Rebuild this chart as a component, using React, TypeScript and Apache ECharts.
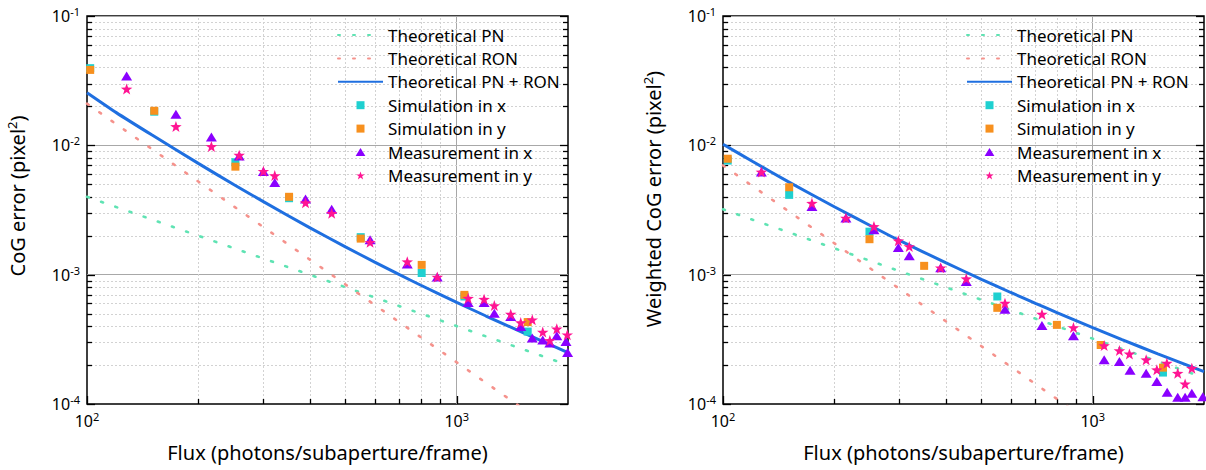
import React, { useEffect, useRef } from "react";
import * as echarts from "echarts";

// ---- data ----
const fluxCurve = [100, 120, 150, 200, 250, 300, 400, 500, 600, 700, 800, 1000, 1200, 1500, 2000];
const sumLeft = [0.0255, 0.0179, 0.012, 0.00725, 0.00496, 0.00367, 0.00231, 0.00164, 0.00125, 0.001, 0.000828, 0.00061, 0.000479, 0.00036, 0.00025];
const sumRight = [0.0102, 0.00753, 0.00524, 0.00335, 0.0024, 0.00184, 0.00124, 0.00092, 0.000728, 0.0006, 0.000509, 0.00039, 0.000315, 0.000244, 0.000178];
const fluxEnds = [100, 2000];
const pnLeft = [4.0e-3, 2.0e-4];
const ronLeft = [2.1e-2, 5.25e-5];
const pnRight = [3.2e-3, 1.6e-4];
const ronRight = [7.0e-3, 1.75e-5];

const simXLeft = [[102, 3.95e-2], [152, 1.82e-2], [252, 7.4e-3], [352, 3.9e-3], [550, 1.95e-3], [804, 1.03e-3], [1049, 6.78e-4], [1556, 3.63e-4]];
const simYLeft = [[102, 3.83e-2], [152, 1.85e-2], [252, 6.84e-3], [352, 4.0e-3], [550, 1.9e-3], [804, 1.19e-3], [1049, 6.98e-4], [1556, 4.3e-4]];
const measXLeft = [[128, 3.43e-2], [174, 1.74e-2], [217, 1.16e-2], [258, 8.28e-3], [300, 6.27e-3], [322, 5.15e-3], [390, 3.85e-3], [459, 3.2e-3], [583, 1.86e-3], [735, 1.21e-3], [886, 9.58e-4], [1074, 6.08e-4], [1186, 6.08e-4], [1264, 5.04e-4], [1400, 4.75e-4], [1490, 3.97e-4], [1601, 3.24e-4], [1709, 3.13e-4], [1786, 2.96e-4], [1865, 3.37e-4], [1975, 3.04e-4], [1995, 2.5e-4]];
const measYLeft = [[128, 2.73e-2], [174, 1.4e-2], [217, 9.8e-3], [258, 8.4e-3], [300, 6.3e-3], [322, 5.84e-3], [390, 3.6e-3], [459, 2.98e-3], [583, 1.78e-3], [735, 1.26e-3], [886, 9.58e-4], [1074, 6.58e-4], [1186, 6.46e-4], [1264, 5.77e-4], [1400, 4.95e-4], [1490, 4.26e-4], [1601, 4.48e-4], [1709, 3.6e-4], [1786, 3.1e-4], [1865, 3.81e-4], [1991, 3.43e-4]];

const simXRight = [[103, 7.62e-3], [151, 4.14e-3], [249, 2.15e-3], [552, 6.78e-4], [1549, 1.75e-4]];
const simYRight = [[103, 7.88e-3], [151, 4.74e-3], [249, 1.88e-3], [350, 1.17e-3], [552, 5.54e-4], [800, 4.09e-4], [1051, 2.86e-4], [1549, 1.91e-4]];
const measXRight = [[127, 6.22e-3], [174, 3.36e-3], [215, 2.74e-3], [256, 2.22e-3], [298, 1.62e-3], [319, 1.4e-3], [388, 1.13e-3], [455, 8.87e-4], [579, 5.41e-4], [729, 4.05e-4], [887, 3.37e-4], [1074, 2.2e-4], [1181, 2.13e-4], [1262, 1.82e-4], [1395, 1.73e-4], [1491, 1.49e-4], [1590, 1.23e-4], [1698, 1.13e-4], [1778, 1.13e-4], [1854, 1.21e-4], [1986, 1.14e-4]];
const measYRight = [[127, 6.22e-3], [174, 3.57e-3], [215, 2.74e-3], [256, 2.36e-3], [298, 1.83e-3], [319, 1.65e-3], [388, 1.13e-3], [455, 9.3e-4], [579, 6.02e-4], [729, 4.95e-4], [887, 3.9e-4], [1074, 2.83e-4], [1181, 2.59e-4], [1257, 2.44e-4], [1395, 2.2e-4], [1491, 1.84e-4], [1587, 2.07e-4], [1698, 1.73e-4], [1778, 1.43e-4], [1854, 1.89e-4]];

const xMinorTicks = [200, 300, 400, 500, 600, 700, 800, 900];
const xMajorTicks = [100, 1000];
const yMinorTicks = [2e-4, 3e-4, 4e-4, 5e-4, 6e-4, 7e-4, 8e-4, 9e-4, 2e-3, 3e-3, 4e-3, 5e-3, 6e-3, 7e-3, 8e-3, 9e-3, 2e-2, 3e-2, 4e-2, 5e-2, 6e-2, 7e-2, 8e-2, 9e-2];
const yMajorTicks = [1e-4, 1e-3, 1e-2, 1e-1];

const names = ["Theoretical PN", "Theoretical RON", "Theoretical PN + RON", "Simulation in x", "Simulation in y", "Measurement in x", "Measurement in y"];
const yTitles = ["CoG error (pixel{s|2})", "Weighted CoG error (pixel{s|2})"];
const xTitle = "Flux (photons/subaperture/frame)";

// ---- styles ----
const FONT = "Noto Sans";
const X_MIN = 100, X_MAX = 2000, Y_MIN = 1e-4, Y_MAX = 1e-1;
const C_PN = "#5fe3b3";
const C_RON = "#f5928c";
const C_SUM = "#1f6fe0";
const C_SIMX = "#1fd0d0";
const C_SIMY = "#f7901e";
const C_MEASX = "#8a00ff";
const C_MEASY = "#ff1493";
const SYM_SQUARE = "path://M0,0L10,0L10,10L0,10Z";
const SYM_TRI = "path://M5.5,0L11,9L0,9Z";
const SYM_STAR = "path://M10,0L12.35,6.76L19.51,6.91L13.8,11.24L15.88,18.09L10,14L4.12,18.09L6.2,11.24L0.49,6.91L7.65,6.76Z";

const isDecade = (v: number) => Math.abs(Math.log10(v) - Math.round(Math.log10(v))) < 1e-6;
const powLabel = (v: number) => (isDecade(v) ? `{b|10}{s|${Math.round(Math.log10(v))}}` : "");
const labelRich = {
  b: { fontSize: 16, fontFamily: FONT, color: "#000", lineHeight: 20 },
  s: { fontSize: 11, fontFamily: FONT, color: "#000", lineHeight: 12, verticalAlign: "top" },
};

function buildSeries(gi: number, sum: number[], pn: number[], ron: number[], sx: number[][], sy: number[][], mx: number[][], my: number[][]) {
  const ax = { xAxisIndex: gi, yAxisIndex: gi };
  const dotted = (c: string) => ({ color: c, width: 2.6, type: [2, 13], cap: "round" });
  const yTicks = [...yMinorTicks, ...yMajorTicks];
  const xTicks = [...xMinorTicks, ...xMajorTicks];
  return [
    {
      type: "custom", ...ax, silent: true, z: 1, clip: false,
      data: yTicks.map((v) => [X_MIN, v]),
      renderItem: (_p: any, api: any) => {
        const v = api.value(1);
        const a = api.coord([X_MIN, v]);
        const b = api.coord([X_MAX, v]);
        const major = isDecade(v);
        const len = major ? 8 : 5;
        const y = Math.round(a[1]) + 0.5;
        const children: any[] = [];
        if (!major) children.push({ type: "line", shape: { x1: a[0], y1: y, x2: b[0], y2: y }, style: { stroke: "#d2d2d2", lineWidth: 1, lineDash: [2, 2] } });
        children.push({ type: "line", shape: { x1: a[0], y1: y, x2: a[0] + len, y2: y }, style: { stroke: "#000", lineWidth: 1.3 } });
        children.push({ type: "line", shape: { x1: b[0] - len, y1: y, x2: b[0], y2: y }, style: { stroke: "#000", lineWidth: 1.3 } });
        return { type: "group", children };
      },
    },
    {
      type: "custom", ...ax, silent: true, z: 1, clip: false,
      data: xTicks.map((f) => [f, 1e-3]),
      renderItem: (_p: any, api: any) => {
        const f = api.value(0);
        const a = api.coord([f, Y_MIN]);
        const b = api.coord([f, Y_MAX]);
        const major = isDecade(f);
        const len = major ? 8 : 5;
        const x = Math.round(a[0]) + 0.5;
        const children: any[] = [];
        if (!major) children.push({ type: "line", shape: { x1: x, y1: a[1], x2: x, y2: b[1] }, style: { stroke: "#d2d2d2", lineWidth: 1, lineDash: [2, 2] } });
        children.push({ type: "line", shape: { x1: x, y1: a[1], x2: x, y2: a[1] - len }, style: { stroke: "#000", lineWidth: 1.3 } });
        return { type: "group", children };
      },
    },
    { name: names[0], type: "line", ...ax, symbol: "none", showSymbol: false, data: fluxEnds.map((f, i) => [f, pn[i]]), itemStyle: { color: C_PN }, lineStyle: dotted(C_PN), z: 2 },
    { name: names[1], type: "line", ...ax, symbol: "none", showSymbol: false, data: fluxEnds.map((f, i) => [f, ron[i]]), itemStyle: { color: C_RON }, lineStyle: dotted(C_RON), z: 2 },
    { name: names[2], type: "line", ...ax, symbol: "none", showSymbol: false, smooth: 0.2, data: fluxCurve.map((f, i) => [f, sum[i]]), itemStyle: { color: C_SUM }, lineStyle: { color: C_SUM, width: 3 }, z: 2 },
    { name: names[3], type: "scatter", ...ax, symbol: SYM_SQUARE, symbolSize: 8, data: sx, itemStyle: { color: C_SIMX, opacity: 1 }, z: 3 },
    { name: names[4], type: "scatter", ...ax, symbol: SYM_SQUARE, symbolSize: 8, data: sy, itemStyle: { color: C_SIMY, opacity: 1 }, z: 3 },
    { name: names[5], type: "scatter", ...ax, symbol: SYM_TRI, symbolSize: [11, 9], data: mx, itemStyle: { color: C_MEASX, opacity: 1 }, z: 3 },
    { name: names[6], type: "scatter", ...ax, symbol: SYM_STAR, symbolSize: [11.5, 11], data: my, itemStyle: { color: C_MEASY, opacity: 1 }, z: 3 },
  ];
}

function xAxisCfg(gi: number) {
  return {
    gridIndex: gi, type: "log", logBase: 10, min: X_MIN, max: X_MAX,
    axisLine: { show: false }, axisTick: { show: false },
    minorTick: { show: false }, minorSplitLine: { show: false },
    splitLine: { show: true, showMinLine: false, showMaxLine: false, lineStyle: { color: "#a8a8a8", width: 1 } },
    axisLabel: { formatter: powLabel, rich: labelRich, margin: 7, showMaxLabel: false },
    name: xTitle, nameLocation: "middle", nameGap: 38,
    nameTextStyle: { fontSize: 20, fontFamily: FONT, color: "#000" },
  };
}
function yAxisCfg(gi: number) {
  return {
    gridIndex: gi, type: "log", logBase: 10, min: Y_MIN, max: Y_MAX,
    axisLine: { show: false }, axisTick: { show: false },
    minorTick: { show: false }, minorSplitLine: { show: false },
    splitLine: { show: true, showMinLine: false, showMaxLine: false, lineStyle: { color: "#a8a8a8", width: 1 } },
    axisLabel: { formatter: powLabel, rich: labelRich, margin: 7 },
    name: yTitles[gi], nameLocation: "middle", nameGap: 58,
    nameTextStyle: {
      fontSize: 20, fontFamily: FONT, color: "#000", lineHeight: 24,
      padding: [0, 0, 0, gi === 0 ? 28 : 22],
      rich: { s: { fontSize: 13, fontFamily: FONT, color: "#000", lineHeight: 14, verticalAlign: "top" } },
    },
  };
}
function legendCfg(left: number) {
  return {
    left, top: 26.5, orient: "vertical", padding: 0, itemWidth: 45, itemHeight: 8, itemGap: 6.4,
    selectedMode: false,
    data: names.map((n, i) => (i < 3 ? { name: n, itemStyle: { opacity: 0 } } : { name: n })),
    textStyle: { fontSize: 17, fontFamily: FONT, color: "#000", lineHeight: 17 },
  };
}

export default function App() {
  const ref = useRef<HTMLDivElement>(null);
  useEffect(() => {
    if (!ref.current) return;
    const chart = echarts.init(ref.current, undefined, { renderer: "svg" });
    chart.setOption({
      animation: false,
      backgroundColor: "#fff",
      textStyle: { fontFamily: FONT },
      grid: [
        { left: 87, top: 16, width: 481, height: 388, show: true, borderColor: "#000", borderWidth: 1.5, backgroundColor: "transparent" },
        { left: 723, top: 16, width: 481, height: 388, show: true, borderColor: "#000", borderWidth: 1.5, backgroundColor: "transparent" },
      ],
      legend: [legendCfg(337), legendCfg(966)],
      xAxis: [xAxisCfg(0), xAxisCfg(1)],
      yAxis: [yAxisCfg(0), yAxisCfg(1)],
      series: [
        ...buildSeries(0, sumLeft, pnLeft, ronLeft, simXLeft, simYLeft, measXLeft, measYLeft),
        ...buildSeries(1, sumRight, pnRight, ronRight, simXRight, simYRight, measXRight, measYRight),
      ],
    });
    return () => chart.dispose();
  }, []);
  return <div ref={ref} style={{ position: "fixed", left: 0, top: 0, width: 1206, height: 470 }} />;
}
